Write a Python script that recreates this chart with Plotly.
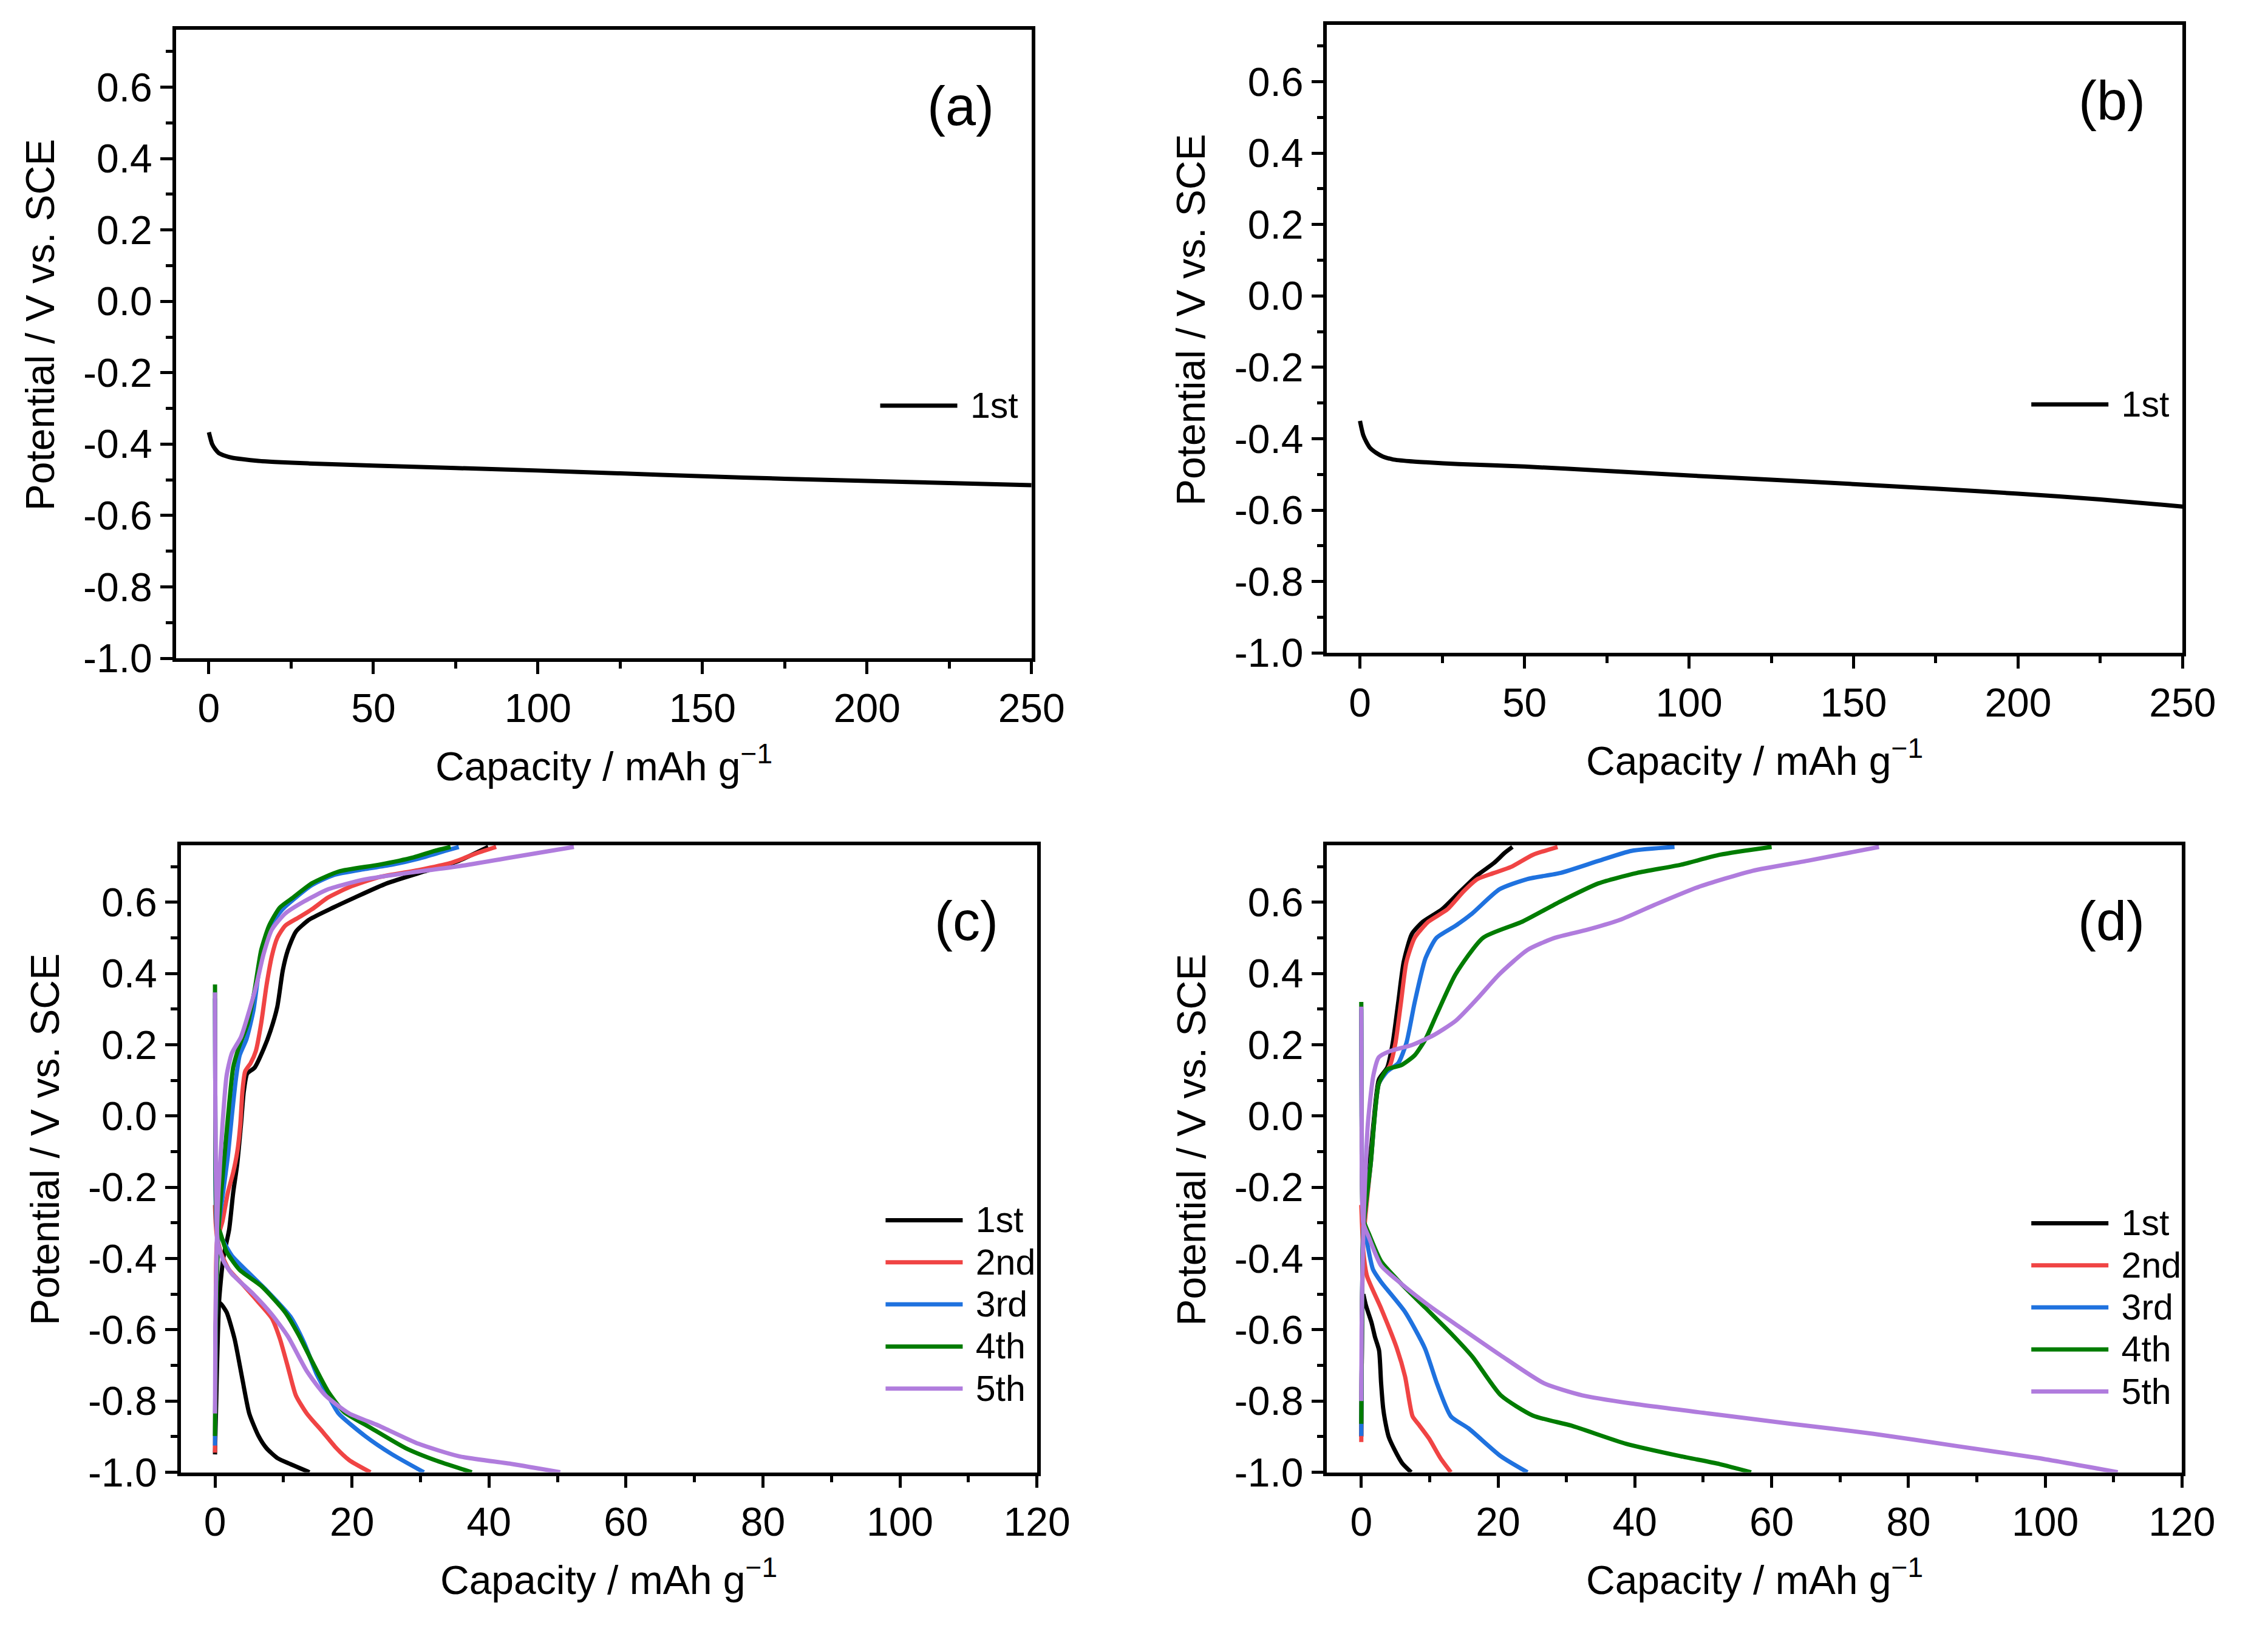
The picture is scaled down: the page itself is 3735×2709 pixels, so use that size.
import plotly.graph_objects as go

# ---------------- data ----------------
# Panel (a)
a_cap = [0, 0.5, 1, 2, 3, 5, 7, 10, 15, 20, 30, 50, 75, 100, 125, 150, 175, 200, 225, 250]
a_pot = [-0.367, -0.385, -0.400, -0.415, -0.425, -0.433, -0.438, -0.442, -0.447, -0.450,
         -0.454, -0.460, -0.467, -0.474, -0.482, -0.490, -0.497, -0.503, -0.509, -0.515]
# Panel (b)
b_cap = [0, 0.5, 1, 2, 3, 5, 7, 10, 15, 20, 30, 50, 75, 100, 125, 150, 175, 200, 225, 250]
b_pot = [-0.350, -0.372, -0.390, -0.410, -0.425, -0.440, -0.450, -0.458, -0.463, -0.466,
         -0.471, -0.478, -0.490, -0.503, -0.515, -0.527, -0.540, -0.554, -0.570, -0.590]

# Panel (c) : charge (upper) and discharge (lower) branches of cycles 1-5
c1_chg_x = [0, 0.3, 0.6, 1.2, 2.07, 2.65, 3.24, 3.8, 4.2, 4.7, 5.8, 7.1, 8.1, 9.1, 9.9, 10.65, 11.8, 13.76, 17.27, 20.4, 25.1, 30.5, 35.6, 38.7, 39.9]
c1_chg_y = [-0.95, -0.70, -0.52, -0.40, -0.318, -0.216, -0.136, -0.023, 0.068, 0.119, 0.136, 0.188, 0.239, 0.307, 0.409, 0.466, 0.517, 0.551, 0.585, 0.613, 0.653, 0.686, 0.716, 0.744, 0.755]
c1_dis_x = [0.3, 0.9, 1.7, 2.85, 4.0, 5.0, 6.35, 7.5, 9.1, 11.0, 13.8]
c1_dis_y = [-0.52, -0.528, -0.551, -0.625, -0.739, -0.835, -0.898, -0.932, -0.96, -0.977, -1.0]

c2_chg_x = [0, 0.1, 0.3, 1.1, 1.87, 2.65, 3.24, 3.7, 4.0, 4.4, 5.2, 5.96, 6.75, 7.5, 8.3, 9.1, 10.25, 12.2, 14.15, 16.5, 19.6, 23.9, 29.7, 34.4, 38.3, 41.05]
c2_chg_y = [-0.945, -0.6, -0.352, -0.295, -0.216, -0.159, -0.102, -0.023, 0.068, 0.125, 0.148, 0.182, 0.261, 0.364, 0.449, 0.5, 0.534, 0.557, 0.58, 0.613, 0.642, 0.67, 0.69, 0.71, 0.738, 0.755]
c2_dis_x = [0, 0.1, 0.3, 0.9, 2.07, 4.0, 6.35, 8.3, 9.47, 10.65, 11.8, 13.4, 15.7, 17.7, 19.6, 22.7]
c2_dis_y = [-0.25, -0.3, -0.34, -0.386, -0.432, -0.472, -0.523, -0.568, -0.625, -0.705, -0.784, -0.835, -0.886, -0.932, -0.966, -1.0]

c3_chg_x = [0, 0.1, 0.5, 1.1, 1.87, 2.46, 3.04, 3.6, 4.6, 5.6, 6.35, 7.1, 8.3, 9.86, 11.8, 14.15, 17.3, 21.9, 25.8, 29.7, 33.6, 35.6]
c3_chg_y = [-0.925, -0.6, -0.318, -0.227, -0.114, 0.0, 0.102, 0.17, 0.216, 0.295, 0.398, 0.477, 0.539, 0.58, 0.613, 0.648, 0.676, 0.693, 0.705, 0.722, 0.744, 0.755]
c3_dis_x = [0, 0.05, 0.3, 0.9, 2.46, 4.8, 7.5, 11.0, 13.0, 14.9, 16.5, 18.05, 21.9, 25.8, 30.5]
c3_dis_y = [0.33, 0.0, -0.32, -0.341, -0.392, -0.438, -0.489, -0.563, -0.636, -0.727, -0.784, -0.835, -0.898, -0.949, -1.0]

c4_chg_x = [0, 0.1, 0.5, 0.9, 1.48, 2.07, 2.65, 3.4, 4.8, 5.77, 6.75, 7.9, 9.47, 11.4, 14.15, 18.05, 23.9, 29.0, 32.1, 34.4]
c4_chg_y = [-0.898, -0.6, -0.318, -0.216, -0.091, 0.034, 0.136, 0.188, 0.261, 0.352, 0.466, 0.534, 0.585, 0.613, 0.653, 0.686, 0.705, 0.726, 0.744, 0.755]
c4_dis_x = [0, 0.05, 0.3, 0.7, 1.7, 3.6, 6.75, 10.25, 12.2, 14.15, 16.5, 18.8, 22.7, 27.8, 32.1, 37.5]
c4_dis_y = [0.369, 0.0, -0.31, -0.324, -0.381, -0.432, -0.477, -0.551, -0.614, -0.688, -0.773, -0.83, -0.875, -0.932, -0.966, -1.0]

c5_chg_x = [0, 0.05, 0.3, 0.5, 1.1, 1.7, 2.46, 3.8, 5.0, 6.0, 7.1, 8.3, 10.25, 13.0, 16.5, 21.9, 29.7, 35.6, 43.4, 52.4]
c5_chg_y = [-0.835, -0.6, -0.318, -0.216, -0.023, 0.114, 0.176, 0.222, 0.295, 0.364, 0.455, 0.523, 0.568, 0.602, 0.636, 0.664, 0.686, 0.701, 0.726, 0.755]
c5_dis_x = [0, 0.05, 0.3, 0.5, 1.29, 2.46, 5.6, 8.3, 10.65, 13.4, 16.1, 19.6, 23.9, 29.7, 35.6, 43.4, 50.4]
c5_dis_y = [0.347, 0.0, -0.33, -0.364, -0.409, -0.443, -0.5, -0.557, -0.619, -0.716, -0.784, -0.835, -0.869, -0.92, -0.955, -0.977, -1.0]

# Panel (d)
d1_chg_x = [0, 0.1, 0.3, 0.96, 1.77, 2.57, 3.8, 4.6, 5.4, 6.2, 7.4, 9.0, 11.8, 14.2, 17.0, 19.4, 21.0, 22.1]
d1_chg_y = [-0.9, -0.6, -0.318, -0.193, -0.023, 0.102, 0.136, 0.205, 0.318, 0.432, 0.511, 0.545, 0.58, 0.625, 0.676, 0.71, 0.739, 0.755]
d1_dis_x = [0.3, 0.7, 1.5, 2.0, 2.6, 2.9, 3.2, 3.47, 4.0, 4.9, 6.0, 7.3]
d1_dis_y = [-0.50, -0.533, -0.58, -0.62, -0.658, -0.75, -0.82, -0.854, -0.90, -0.938, -0.975, -1.0]

d2_chg_x = [0, 0.1, 0.3, 1.37, 2.57, 4.2, 5.0, 5.8, 6.6, 7.8, 9.8, 12.6, 15.0, 17.0, 19.4, 21.9, 25.1, 28.7]
d2_chg_y = [-0.915, -0.6, -0.352, -0.136, 0.091, 0.142, 0.205, 0.318, 0.432, 0.5, 0.545, 0.58, 0.631, 0.665, 0.682, 0.699, 0.733, 0.755]
d2_dis_x = [0, 0.1, 0.3, 0.85, 2.9, 5.2, 6.4, 7.5, 8.4, 9.9, 11.6, 13.1]
d2_dis_y = [-0.25, -0.3, -0.38, -0.45, -0.54, -0.652, -0.731, -0.843, -0.866, -0.905, -0.961, -1.0]

d3_chg_x = [0, 0.1, 0.3, 1.37, 2.57, 3.8, 5.4, 6.6, 7.8, 9.4, 11.0, 13.8, 16.2, 20.2, 24.3, 29.1, 34.7, 39.5, 45.8]
d3_chg_y = [-0.898, -0.6, -0.318, -0.136, 0.091, 0.125, 0.148, 0.205, 0.318, 0.443, 0.5, 0.534, 0.568, 0.636, 0.665, 0.682, 0.716, 0.744, 0.755]
d3_dis_x = [0, 0.05, 0.3, 0.85, 1.7, 2.9, 6.4, 9.3, 11.1, 13.1, 15.7, 20.4, 24.3]
d3_dis_y = [0.3, 0.0, -0.30, -0.356, -0.43, -0.466, -0.55, -0.652, -0.753, -0.843, -0.877, -0.955, -1.0]

d4_chg_x = [0, 0.1, 0.3, 1.37, 2.57, 3.8, 5.8, 7.8, 9.4, 11.0, 13.8, 17.8, 23.5, 29.1, 34.7, 40.3, 46.7, 52.4, 60.0]
d4_chg_y = [-0.864, -0.6, -0.318, -0.136, 0.091, 0.131, 0.142, 0.17, 0.216, 0.284, 0.398, 0.5, 0.545, 0.602, 0.653, 0.682, 0.705, 0.733, 0.755]
d4_dis_x = [0, 0.05, 0.3, 1.1, 2.9, 5.8, 9.3, 13.1, 16.3, 20.4, 25.1, 30.7, 38.7, 46.7, 52.4, 57.0]
d4_dis_y = [0.32, 0.0, -0.29, -0.33, -0.408, -0.47, -0.537, -0.61, -0.677, -0.784, -0.841, -0.869, -0.92, -0.955, -0.977, -1.0]

d5_chg_x = [0, 0.05, 0.3, 0.96, 1.77, 2.57, 4.2, 7.4, 10.6, 13.8, 17.0, 20.2, 24.3, 28.3, 33.1, 37.9, 42.7, 49.2, 57.2, 65.2, 75.7]
d5_chg_y = [-0.80, -0.6, -0.318, -0.023, 0.114, 0.165, 0.182, 0.199, 0.227, 0.267, 0.33, 0.398, 0.466, 0.5, 0.523, 0.551, 0.591, 0.642, 0.688, 0.716, 0.755]
d5_dis_x = [0, 0.05, 0.3, 1.1, 2.9, 5.8, 9.9, 14.5, 20.4, 26.7, 32.3, 39.5, 50.8, 62.8, 74.9, 86.9, 98.9, 110.6]
d5_dis_y = [0.307, 0.0, -0.30, -0.34, -0.42, -0.47, -0.532, -0.594, -0.672, -0.75, -0.784, -0.807, -0.835, -0.864, -0.892, -0.926, -0.96, -1.0]

cycle_names = ["1st", "2nd", "3rd", "4th", "5th"]
cycle_colors = ["#000000", "#F04444", "#1F72DF", "#007C00", "#B07CDD"]

y_tickvals = [-1.0, -0.8, -0.6, -0.4, -0.2, 0.0, 0.2, 0.4, 0.6]
y_ticktext = ["-1.0", "-0.8", "-0.6", "-0.4", "-0.2", "0.0", "0.2", "0.4", "0.6"]
x_ab_tickvals = [0, 50, 100, 150, 200, 250]
x_cd_tickvals = [0, 20, 40, 60, 80, 100, 120]

# ---------------- layout geometry ----------------
W, H = 3735, 2709
FONT = "Liberation Sans, Arial, sans-serif"
LW = 7


def px_x(p):
    return p / W


def px_y(p):
    return 1 - p / H


panels = {
    # name: (left, right, top, bottom) in pixels
    "a": (286, 1716, 42, 1091),
    "b": (2210, 3640, 33, 1082),
    "c": (294, 1725, 1403, 2450),
    "d": (2210, 3639, 1403, 2450),
}

fig = go.Figure()


def leg_label(s):
    return f"<span style='font-size:59px'>\u00a0{s}</span>"


def add_line(x, y, axis_idx, name, color, legend, showlegend):
    fig.add_trace(go.Scatter(
        x=x, y=y, mode="lines", name=leg_label(name),
        line=dict(color=color, width=LW, shape="spline", smoothing=0.6),
        xaxis="x" if axis_idx == 1 else f"x{axis_idx}",
        yaxis="y" if axis_idx == 1 else f"y{axis_idx}",
        legend=legend, showlegend=showlegend, hoverinfo="skip",
    ))


add_line(a_cap, a_pot, 1, "1st", "#000000", "legend", True)
add_line(b_cap, b_pot, 2, "1st", "#000000", "legend2", True)

c_data = [(c1_chg_x, c1_chg_y, c1_dis_x, c1_dis_y),
          (c2_chg_x, c2_chg_y, c2_dis_x, c2_dis_y),
          (c3_chg_x, c3_chg_y, c3_dis_x, c3_dis_y),
          (c4_chg_x, c4_chg_y, c4_dis_x, c4_dis_y),
          (c5_chg_x, c5_chg_y, c5_dis_x, c5_dis_y)]
d_data = [(d1_chg_x, d1_chg_y, d1_dis_x, d1_dis_y),
          (d2_chg_x, d2_chg_y, d2_dis_x, d2_dis_y),
          (d3_chg_x, d3_chg_y, d3_dis_x, d3_dis_y),
          (d4_chg_x, d4_chg_y, d4_dis_x, d4_dis_y),
          (d5_chg_x, d5_chg_y, d5_dis_x, d5_dis_y)]

for idx, legend, data in [(3, "legend3", c_data), (4, "legend4", d_data)]:
    for k, (cx, cy, dx, dy) in enumerate(data):
        add_line(cx, cy, idx, cycle_names[k], cycle_colors[k], legend, True)
        add_line(dx, dy, idx, cycle_names[k], cycle_colors[k], legend, False)

axis_line = dict(showline=True, linecolor="black", linewidth=5.5, mirror=True,
                 showgrid=False, zeroline=False, ticks="outside", tickcolor="black",
                 tickwidth=4.5, ticklen=20,
                 tickfont=dict(family=FONT, size=66, color="black"))

layout = dict(width=W, height=H, margin=dict(l=0, r=0, t=0, b=0),
              paper_bgcolor="white", plot_bgcolor="white",
              font=dict(family=FONT, color="black"))

annotations = []
for i, key in enumerate(["a", "b", "c", "d"], start=1):
    l, r, t, b = panels[key]
    xn = "xaxis" if i == 1 else f"xaxis{i}"
    yn = "yaxis" if i == 1 else f"yaxis{i}"
    xid = "x" if i == 1 else f"x{i}"
    yid = "y" if i == 1 else f"y{i}"
    if key in ("a", "b"):
        xr, xt, xm = [-10, 250], x_ab_tickvals, 25
    else:
        xr, xt, xm = [-5, 120], x_cd_tickvals, 10
    layout[xn] = dict(axis_line, domain=[px_x(l), px_x(r)], range=xr, anchor=yid,
                      tickmode="array", tickvals=xt, ticktext=[str(v) for v in xt],
                      minor=dict(ticks="outside", ticklen=11, tickwidth=4.5, tickcolor="black",
                                 dtick=xm, tick0=0))
    layout[yn] = dict(axis_line, domain=[px_y(b), px_y(t)], range=[-1.0, 0.76], anchor=xid,
                      tickmode="array", tickvals=y_tickvals, ticktext=y_ticktext,
                      minor=dict(ticks="outside", ticklen=11, tickwidth=4.5, tickcolor="black",
                                 dtick=0.1, tick0=-1.0))
    # top axis with inward ticks
    tn = f"xaxis{i + 4}"
    layout[tn] = dict(overlaying=xid, side="top", anchor=yid, range=xr,
                      showline=False, showgrid=False, zeroline=False,
                      ticks="inside", ticklen=20, tickwidth=4.5, tickcolor="black",
                      tickmode="array", tickvals=xt, showticklabels=False,
                      minor=dict(ticks="inside", ticklen=10, tickwidth=4.5, tickcolor="black",
                                 dtick=xm, tick0=0))
    # axis titles
    annotations.append(dict(xref="paper", yref="paper", x=px_x((l + r) / 2), y=px_y(b + 175),
                            text="Capacity / mAh g<sup>−1</sup>", showarrow=False,
                            xanchor="center", yanchor="middle",
                            font=dict(family=FONT, size=66, color="black")))
    annotations.append(dict(xref="paper", yref="paper", x=px_x(l - 227), y=px_y((t + b) / 2 - 32),
                            text="Potential / V vs. SCE", showarrow=False, textangle=-90,
                            xanchor="center", yanchor="middle",
                            font=dict(family=FONT, size=66, color="black")))
    annotations.append(dict(xref="paper", yref="paper", x=px_x(r - 118), y=px_y(t + 127),
                            text=f"({key})", showarrow=False,
                            xanchor="center", yanchor="middle",
                            font=dict(family=FONT, size=90, color="black")))

layout["annotations"] = annotations

leg_common = dict(bgcolor="rgba(0,0,0,0)", borderwidth=0, itemwidth=127,
                  font=dict(family=FONT, size=51, color="black"),
                  xanchor="left", yanchor="top", tracegroupgap=0)
layout["legend"] = dict(leg_common, x=px_x(1458), y=px_y(667 - 38))
layout["legend2"] = dict(leg_common, x=px_x(3382), y=px_y(665 - 38))
layout["legend3"] = dict(leg_common, x=px_x(1467), y=px_y(2027 - 38))
layout["legend4"] = dict(leg_common, x=px_x(3382), y=px_y(2032 - 38))

fig.update_layout(**layout)
fig.write_html("out.html")
